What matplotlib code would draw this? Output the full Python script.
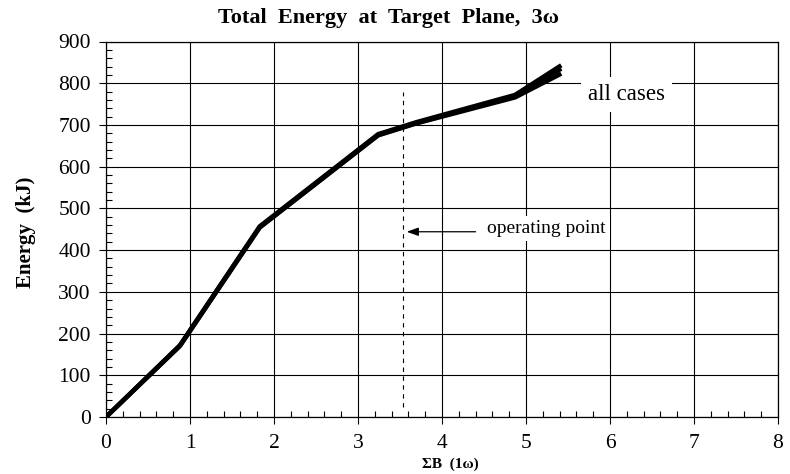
import matplotlib
matplotlib.use("Agg")
import matplotlib.pyplot as plt
from matplotlib.ticker import MultipleLocator

# Total 3-omega energy at the target plane versus summed B-integral (1-omega)
sum_b = [0.0, 0.88, 1.83, 3.24, 3.70, 4.87, 5.42]
energy_case_a = [0, 172, 457, 678, 707, 772, 843]
energy_case_b = [0, 171, 455, 676, 705, 769, 835]
energy_case_c = [0, 170, 454, 675, 704, 766, 823]
cases = [energy_case_a, energy_case_b, energy_case_c]

operating_point = 3.53
operating_span = [25, 780]

x_ticks = [0, 1, 2, 3, 4, 5, 6, 7, 8]
y_ticks = [0, 100, 200, 300, 400, 500, 600, 700, 800, 900]

plt.rcParams["font.family"] = ["Liberation Serif", "DejaVu Serif"]

fig = plt.figure(figsize=(7.9, 4.74), dpi=100)
ax = fig.add_axes([106 / 790, 1 - 417 / 474, 672 / 790, 375.5 / 474])

for energies in cases:
    ax.plot(sum_b, energies, color="black", lw=3.2, solid_joinstyle="miter",
            solid_capstyle="butt", zorder=3)

ax.plot([operating_point, operating_point], operating_span, color="black",
        lw=0.8, linestyle=(0, (4, 4)), zorder=2)

ax.set_xlim(0, 8)
ax.set_ylim(0, 900)
ax.set_xticks(x_ticks)
ax.set_yticks(y_ticks)
ax.xaxis.set_minor_locator(MultipleLocator(0.2))
ax.yaxis.set_minor_locator(MultipleLocator(20))

ax.grid(True, which="major", color="black", lw=0.8, zorder=1)
ax.set_axisbelow(True)

ax.tick_params(axis="both", which="major", direction="out", length=5,
               width=0.8, labelsize=15.5, colors="black")
ax.tick_params(axis="y", which="major", pad=6)
ax.tick_params(axis="x", which="major", pad=7)
ax.tick_params(axis="both", which="minor", direction="in", length=4,
               width=0.8)
for sp in ax.spines.values():
    sp.set_linewidth(0.9)
    sp.set_color("black")

ax.annotate("", xy=(3.58, 444), xytext=(4.4, 444),
            arrowprops=dict(arrowstyle="-|>,head_length=0.7,head_width=0.25",
                            color="black", lw=0.9, shrinkA=0, shrinkB=0),
            zorder=4)
ax.text(4.54, 451, "operating point", fontsize=14, ha="left", va="center",
        zorder=5,
        bbox=dict(facecolor="white", edgecolor="none", pad=3))
ax.text(5.74, 773, "all cases", fontsize=16.5, ha="left", va="center",
        zorder=5,
        bbox=dict(facecolor="white", edgecolor="none", pad=5))

fig.text(389 / 790, 1 - 18 / 474, "Total  Energy  at  Target  Plane,  3ω",
         ha="center", va="center", fontsize=16, fontweight="bold")
fig.text(26 / 790, 1 - 232 / 474, "Energy  (kJ)", rotation=90,
         ha="center", va="center", fontsize=15, fontweight="bold")
fig.text(450 / 790, 1 - 464 / 474, "ΣB  (1ω)", ha="center", va="center",
         fontsize=11, fontweight="bold")

fig.savefig("out.png", dpi=100)
